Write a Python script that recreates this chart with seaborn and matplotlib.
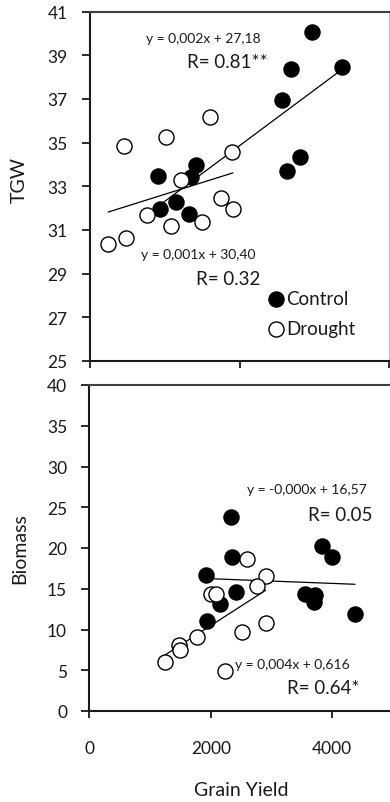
import matplotlib
matplotlib.use("Agg")
import matplotlib.pyplot as plt
import seaborn as sns
import pandas as pd
import numpy as np

# ---- data ----
tgw_control_x = [3717, 4217, 3367, 3217, 3517, 3300, 1767, 1683, 1144, 1167, 1444, 1656]
tgw_control_y = [40.05, 38.45, 38.37, 36.95, 34.36, 33.68, 33.98, 33.42, 33.45, 31.94, 32.28, 31.74]
tgw_drought_x = [572, 1278, 2000, 2378, 1528, 2183, 2389, 1872, 1361, 961, 600, 306]
tgw_drought_y = [34.84, 35.25, 36.16, 34.56, 33.27, 32.46, 31.97, 31.36, 31.16, 31.67, 30.63, 30.34]

bio_control_x = [2328, 2344, 3825, 3990, 1916, 2415, 3551, 3715, 3697, 4374, 2151, 1932]
bio_control_y = [23.8, 18.9, 20.2, 18.9, 16.7, 14.6, 14.4, 14.25, 13.4, 11.9, 13.1, 11.1]
bio_drought_x = [2591, 2904, 2755, 2000, 2090, 2904, 2519, 1778, 1481, 1493, 1246, 2234]
bio_drought_y = [18.7, 16.6, 15.3, 14.3, 14.3, 10.8, 9.7, 9.1, 8.1, 7.5, 6.06, 4.9]

tgw_ticks = [25, 27, 29, 31, 33, 35, 37, 39, 41]
bio_ticks = [0, 5, 10, 15, 20, 25, 30, 35, 40]
x_ticks_top = [0, 2500, 5000]
x_ticks_bottom = [0, 2000, 4000]

eq_tgw_control = "y = 0,002x + 27,18"
r_tgw_control = "R= 0.81**"
eq_tgw_drought = "y = 0,001x + 30,40"
r_tgw_drought = "R= 0.32"
eq_bio_control = "y = -0,000x + 16,57"
r_bio_control = "R= 0.05"
eq_bio_drought = "y = 0,004x + 0,616"
r_bio_drought = "R= 0.64*"

df_tgw = pd.concat([
    pd.DataFrame({"x": tgw_control_x, "y": tgw_control_y, "Treatment": "Control"}),
    pd.DataFrame({"x": tgw_drought_x, "y": tgw_drought_y, "Treatment": "Drought"}),
])
df_bio = pd.concat([
    pd.DataFrame({"x": bio_control_x, "y": bio_control_y, "Treatment": "Control"}),
    pd.DataFrame({"x": bio_drought_x, "y": bio_drought_y, "Treatment": "Drought"}),
])

sns.set_style("ticks")
plt.rcParams["font.family"] = ["Lato", "DejaVu Sans"]

TXT = "#1a1a1a"
W, H = 390, 803
fig = plt.figure(figsize=(W / 100, H / 100), dpi=100)

def px_axes(left, right, top, bottom):
    return [left / W, 1 - bottom / H, (right - left) / W, (bottom - top) / H]

ax1 = fig.add_axes(px_axes(90, 389, 12.5, 362))
ax2 = fig.add_axes(px_axes(89.3, 393.05, 386, 712))

ms = 118
styles = {
    "Control": dict(color="black", edgecolor="black"),
    "Drought": dict(color="white", edgecolor="black"),
}

def draw(ax, df):
    for t in ["Control", "Drought"]:
        sub = df[df["Treatment"] == t]
        sns.regplot(data=sub, x="x", y="y", ax=ax, scatter=False, ci=None,
                    truncate=True, line_kws=dict(color="black", lw=0.9, zorder=1))
    for t in ["Control", "Drought"]:
        sub = df[df["Treatment"] == t]
        sns.scatterplot(data=sub, x="x", y="y", ax=ax, s=ms, linewidth=1.0,
                        label=t, zorder=3, **styles[t])

draw(ax1, df_tgw)
draw(ax2, df_bio)

# top panel
ax1.set_xlim(0, 5000)
ax1.set_ylim(25, 41)
ax1.set_yticks(tgw_ticks)
ax1.set_xticks(x_ticks_top)
ax1.set_xticklabels([])
ax1.set_xlabel("")
ax1.set_ylabel("TGW", fontsize=14, color=TXT)
ax1.yaxis.set_label_coords(-0.207, 0.52)

# bottom panel
ax2.set_xlim(0, 5000)
ax2.set_ylim(0, 40)
ax2.set_yticks(bio_ticks)
ax2.set_xticks(x_ticks_bottom)
ax2.set_xlabel("Grain Yield", fontsize=14, color=TXT)
ax2.xaxis.set_label_coords(0.5, -0.215)
ax2.set_ylabel("Biomass", fontsize=14, color=TXT)
ax2.yaxis.set_label_coords(-0.202, 0.5)

for ax in (ax1, ax2):
    ax.tick_params(axis="y", direction="out", length=6, width=1.3, pad=10,
                   labelsize=12.5, colors=TXT)
    ax.tick_params(axis="x", direction="out", length=5, width=1.3,
                   labelsize=12.5, colors=TXT)
    for s in ["left", "bottom"]:
        ax.spines[s].set_linewidth(1.5)
        ax.spines[s].set_color("#1a1a1a")
    ax.spines["top"].set_visible(True)
    ax.spines["top"].set_linewidth(1.5)
    ax.spines["top"].set_color("#404040")
ax2.tick_params(axis="x", pad=16)
ax1.spines["right"].set_visible(True)
ax1.spines["right"].set_color("#bbbbbb")
ax1.spines["right"].set_linewidth(0.8)
ax2.spines["right"].set_visible(False)

# equations
def txt(ax, x, y, s, size):
    ax.text(x, y, s, transform=ax.transAxes, ha="center", va="center",
            fontsize=size, color=TXT)

txt(ax1, 0.378, 0.924, eq_tgw_control, 10)
txt(ax1, 0.458, 0.856, r_tgw_control, 13.5)
txt(ax1, 0.361, 0.306, eq_tgw_drought, 10)
txt(ax1, 0.463, 0.235, r_tgw_drought, 13.5)
txt(ax2, 0.716, 0.681, eq_bio_control, 10)
txt(ax2, 0.827, 0.604, r_bio_control, 13.5)
txt(ax2, 0.669, 0.144, eq_bio_drought, 10)
txt(ax2, 0.769, 0.0706, r_bio_drought, 13.5)

# legend only on top panel
ax2.get_legend().remove()
ax1.legend(loc="upper left", bbox_to_anchor=(0.597, 0.203), frameon=False,
           fontsize=13.5, handlelength=0.8, handletextpad=0.15,
           borderpad=0, borderaxespad=0, labelspacing=0.68,
           labelcolor=TXT)

fig.savefig("out.png", dpi=100)
